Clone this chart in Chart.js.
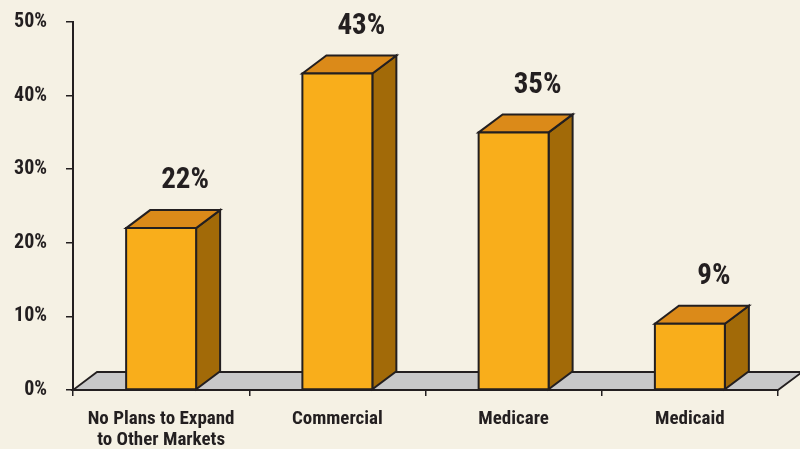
<!DOCTYPE html>
<html>
<head>
<meta charset="utf-8">
<script src="https://cdn.jsdelivr.net/npm/chart.js@4"></script>
<style>
  html, body { margin: 0; padding: 0; background: #f5f1e4; }
  #wrap { width: 800px; height: 449px; }
</style>
</head>
<body>
<div id="wrap"><canvas id="chart" width="800" height="449"></canvas></div>
<script>
const categories = [['No Plans to Expand', 'to Other Markets'], 'Commercial', 'Medicare', 'Medicaid'];
const values = [22, 43, 35, 9];
const yMax = 50;
const yStep = 10;

const DX = 24, DY = 18;
const FONT = '"Roboto Condensed", "Liberation Sans Narrow", sans-serif';
const INK = '#231f20';

// 3D floor, boxes and value labels
const box3d = {
    id: 'box3d',
    beforeDatasetsDraw(chart) {
        const ctx = chart.ctx;
        const a = chart.chartArea;
        ctx.save();
        ctx.beginPath();
        ctx.moveTo(a.left, a.bottom);
        ctx.lineTo(a.right, a.bottom);
        ctx.lineTo(a.right + DX, a.bottom - DY);
        ctx.lineTo(a.left + DX, a.bottom - DY);
        ctx.closePath();
        ctx.fillStyle = '#c8c8c9';
        ctx.fill();
        ctx.lineWidth = 1.8;
        ctx.strokeStyle = INK;
        ctx.stroke();
        ctx.restore();
    },
    afterDatasetsDraw(chart) {
        const ctx = chart.ctx;
        const meta = chart.getDatasetMeta(0);
        ctx.save();
        ctx.lineWidth = 2;
        ctx.strokeStyle = INK;
        ctx.lineJoin = 'miter';
        meta.data.forEach((bar, i) => {
            const x0 = bar.x - bar.width / 2;
            const x1 = bar.x + bar.width / 2;
            const top = bar.y;
            const base = bar.base;
            // side
            ctx.beginPath();
            ctx.moveTo(x1, top);
            ctx.lineTo(x1 + DX, top - DY);
            ctx.lineTo(x1 + DX, base - DY);
            ctx.lineTo(x1, base);
            ctx.closePath();
            ctx.fillStyle = '#a26a08';
            ctx.fill();
            ctx.stroke();
            // top
            ctx.beginPath();
            ctx.moveTo(x0, top);
            ctx.lineTo(x0 + DX, top - DY);
            ctx.lineTo(x1 + DX, top - DY);
            ctx.lineTo(x1, top);
            ctx.closePath();
            ctx.fillStyle = '#db8a19';
            ctx.fill();
            ctx.stroke();
            // front
            ctx.beginPath();
            ctx.rect(x0, top, x1 - x0, base - top);
            ctx.fillStyle = '#f9ae1b';
            ctx.fill();
            ctx.stroke();
            // value label
            ctx.fillStyle = INK;
            ctx.font = 'bold 29px ' + FONT;
            ctx.textAlign = 'center';
            ctx.textBaseline = 'middle';
            ctx.fillText(values[i] + '%', bar.x + DX, top - DY - 29);
        });
        ctx.restore();
    }
};

new Chart(document.getElementById('chart'), {
    type: 'bar',
    data: {
        labels: categories,
        datasets: [{
            data: values,
            backgroundColor: 'rgba(0,0,0,0)',
            borderWidth: 0,
            categoryPercentage: 1,
            barPercentage: 0.397
        }]
    },
    options: {
        responsive: false,
        animation: false,
        layout: { padding: { left: 0, right: 22, top: 22, bottom: 0 } },
        plugins: { legend: { display: false }, tooltip: { enabled: false } },
        scales: {
            x: {
                afterFit(scale) { scale.height = 59; scale.paddingLeft = 0; scale.paddingRight = 0; },
                grid: { offset: true, drawOnChartArea: false, tickLength: 6, color: INK, lineWidth: 1.5 },
                border: { color: INK, width: 2 },
                ticks: { color: INK, padding: 13, font: { family: FONT, size: 19, weight: 'bold', lineHeight: 1.1 } }
            },
            y: {
                min: 0,
                max: yMax,
                afterFit(scale) { scale.width = 73; scale.paddingTop = 0; scale.paddingBottom = 0; },
                grid: { drawOnChartArea: false, tickLength: 7, color: INK, lineWidth: 1.5 },
                border: { color: INK, width: 2 },
                ticks: {
                    stepSize: yStep,
                    color: INK,
                    padding: 19,
                    font: { family: FONT, size: 20, weight: 'bold' },
                    callback: v => v + '%'
                }
            }
        }
    },
    plugins: [box3d]
});
</script>
</body>
</html>
